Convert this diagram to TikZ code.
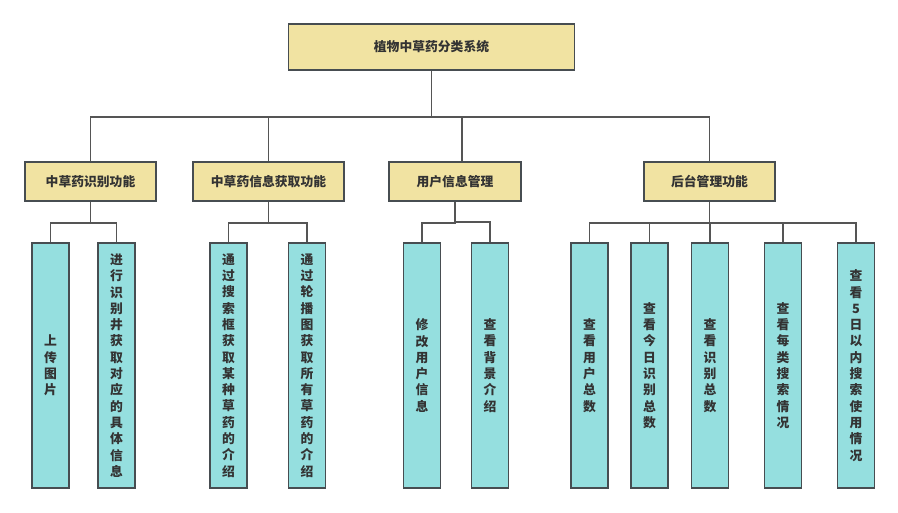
\documentclass[tikz,border=0pt]{standalone}
\usepackage{fontspec}
\setmainfont{Noto Sans CJK SC}
\usetikzlibrary{positioning}
\definecolor{rootyellow}{HTML}{F1E3A2}
\definecolor{leafcyan}{HTML}{95DFDF}
\definecolor{edgegray}{HTML}{474D51}
\definecolor{linkgray}{HTML}{555555}
\definecolor{textgray}{HTML}{333333}

\begin{document}
\begin{tikzpicture}[
    x=1pt, y=-1pt,
    every node/.style={font=\fontsize{12.8}{16.3}\selectfont\bfseries, text=textgray},
    rootbox/.style={
        draw=edgegray, fill=rootyellow, line width=1.8pt,
        minimum width=286pt, minimum height=46pt, inner sep=0pt
    },
    funcbox/.style={
        draw=edgegray, fill=rootyellow, line width=1.8pt,
        minimum width=#1, minimum height=39pt, inner sep=0pt
    },
    leafbox/.style={
        draw=edgegray, fill=leafcyan, line width=1.8pt,
        minimum width=37pt, minimum height=245pt, inner sep=0pt,
        align=center
    },
    link/.style={draw=linkgray, line width=1.5pt},
]
\useasboundingbox (0,0) rectangle (898,512);

% === Root ===
\node[rootbox] (system) at (431.5,47) {植物中草药分类系统};

% === Function layer ===
\node[funcbox=131pt] (recog) at (90.5,181.5) {中草药识别功能};
\node[funcbox=151pt] (herbinfo) at (268.5,181.5) {中草药信息获取功能};
\node[funcbox=132pt] (usermgr) at (455,181.5) {用户信息管理};
\node[funcbox=131pt] (admin) at (709.5,181.5) {后台管理功能};

% === Leaves ===
\node[leafbox] (upload) at (50.5,365.5) {上\\传\\图\\片};
\node[leafbox] (identify) at (116.5,365.5) {进\\行\\识\\别\\井\\获\\取\\对\\应\\的\\具\\体\\信\\息};
\node[leafbox] (search) at (228.5,365.5) {通\\过\\搜\\索\\框\\获\\取\\某\\种\\草\\药\\的\\介\\绍};
\node[leafbox] (carousel) at (307,365.5) {通\\过\\轮\\播\\图\\获\\取\\所\\有\\草\\药\\的\\介\\绍};
\node[leafbox] (editinfo) at (422,365.5) {修\\改\\用\\户\\信\\息};
\node[leafbox] (background) at (490,365.5) {查\\看\\背\\景\\介\\绍};
\node[leafbox] (usercount) at (589.5,365.5) {查\\看\\用\\户\\总\\数};
\node[leafbox] (todaycount) at (649.5,365.5) {查\\看\\今\\日\\识\\别\\总\\数};
\node[leafbox] (recogcount) at (710,365.5) {查\\看\\识\\别\\总\\数};
\node[leafbox] (typesearch) at (783,365.5) {查\\看\\每\\类\\搜\\索\\情\\况};
\node[leafbox] (fiveday) at (856,365.5) {查\\看\\5\\日\\以\\内\\搜\\索\\使\\用\\情\\况};

% === Root to functions ===
\draw[link] (system.south) -- ++(0,46) -| (recog.north);
\draw[link] (system.south) -- ++(0,46) -| (herbinfo.north);
\draw[link] (system.south) -- ++(0,46) -| ([xshift=7pt]usermgr.north);
\draw[link] (system.south) -- ++(0,46) -| (admin.north);

% === Functions to leaves ===
\draw[link] (recog.south) -- ++(0,21) -| (upload.north);
\draw[link] (recog.south) -- ++(0,21) -| (identify.north);
\draw[link] (herbinfo.south) -- ++(0,21) -| (search.north);
\draw[link] (herbinfo.south) -- ++(0,21) -| (carousel.north);
\draw[link] (usermgr.south) -- ++(0,21) -| (editinfo.north);
\draw[link] (usermgr.south) -- ++(0,20) -| (background.north);
\draw[link] (admin.south) -- ++(0,21) -| (usercount.north);
\draw[link] (admin.south) -- ++(0,21) -| (todaycount.north);
\draw[link] (admin.south) -- ++(0,21) -| (recogcount.north);
\draw[link] (admin.south) -- ++(0,21) -| (typesearch.north);
\draw[link] (admin.south) -- ++(0,21) -| (fiveday.north);

\end{tikzpicture}
\end{document}
